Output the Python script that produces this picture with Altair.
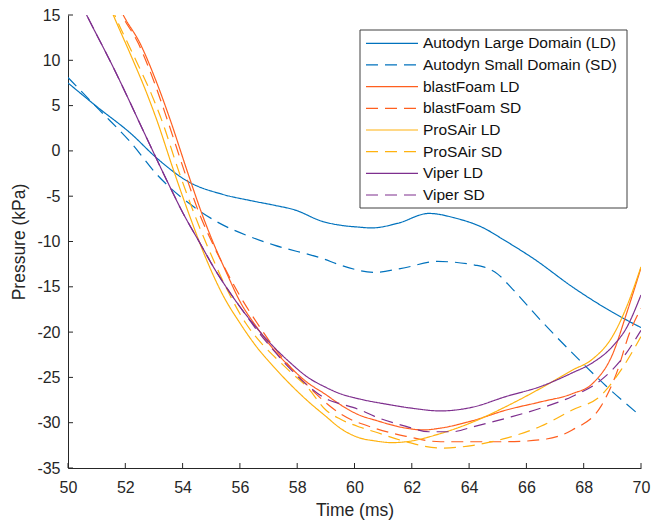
import altair as alt
import pandas as pd

# ---------------- data ----------------
series_names = [
    "Autodyn Large Domain (LD)", "Autodyn Small Domain (SD)",
    "blastFoam LD", "blastFoam SD",
    "ProSAir LD", "ProSAir SD",
    "Viper LD", "Viper SD",
]
series_colors = ["#0072BD", "#0072BD", "#FF5F1F", "#FF5F1F",
                 "#FFB20F", "#FFB20F", "#7E2F8E", "#7E2F8E"]

autodyn_ld_x = [50, 51, 52.2, 53.1, 54.2, 55.4, 56.4, 57.2, 57.9, 58.9, 59.5, 60.1, 60.6,
                61.5, 62.6, 63.5, 64.5, 65.2, 66.3, 67.6, 69.0, 70]
autodyn_ld_y = [7.5, 4.9, 1.9, -0.8, -3.4, -4.8, -5.5, -6.0, -6.5, -7.8, -8.2, -8.4, -8.5,
                -8.0, -6.9, -7.4, -8.5, -9.8, -12.0, -15.0, -17.8, -19.5]

autodyn_sd_x = [50, 51.1, 52.2, 53.1, 54.4, 55.3, 56.3, 57.2, 58.9, 59.5, 60.7, 61.6, 62.9,
                64.2, 64.5, 65.0, 65.5, 66.5, 67.6, 68.8, 70]
autodyn_sd_y = [8.1, 4.5, 0.9, -2.6, -6.2, -8.0, -9.4, -10.4, -11.9, -12.6, -13.4, -13.0, -12.2,
                -12.6, -12.8, -13.6, -15.2, -18.7, -22.3, -26.0, -29.3]

blastfoam_ld_x = [51.75, 51.93, 52.51, 53.1, 53.56, 54.2, 54.67, 55.0, 55.54, 56.0, 56.6, 57.17,
                  57.8, 58.33, 59.0, 59.5, 60.2, 60.7, 61.8, 62.4, 63.0, 64.1, 65.3, 66.5, 67.6,
                  68.3, 69.0, 69.5, 70]
blastfoam_ld_y = [16.2, 15, 11.9, 7.5, 3.5, -2.6, -6.9, -9.6, -13.5, -16.6, -19.5, -21.9,
                  -24.0, -25.5, -26.9, -28.0, -29.2, -29.7, -30.6, -30.8, -30.6, -29.8, -28.6,
                  -27.7, -26.8, -25.7, -22.5, -17.9, -12.9]

blastfoam_sd_x = [51.7, 51.88, 52.45, 53.02, 53.46, 54.1, 54.58, 55.0, 55.5, 56.0, 56.6, 57.17,
                  57.8, 58.33, 59.0, 59.5, 60.7, 61.8, 63.0, 64.2, 65.3, 66.7, 67.6, 68.6, 69.15,
                  69.6, 70]
blastfoam_sd_y = [16.2, 15, 11.9, 7.5, 3.5, -2.6, -6.9, -9.9, -13.1, -16.0, -19.0, -21.6,
                  -24.0, -25.8, -27.8, -29.0, -30.6, -31.5, -32.1, -32.1, -32.1, -31.8, -30.8,
                  -28.2, -24.5, -20.1, -17.4]

prosair_ld_x = [51.45, 51.58, 52.16, 52.75, 53.1, 53.68, 54.26, 54.78, 55.42, 56.0, 56.6, 57.17,
                57.8, 58.33, 59.0, 59.5, 60.2, 60.7, 61.3, 61.8, 63.0, 64.15, 65.3, 66.5, 67.6,
                68.3, 69.0, 69.5, 70]
prosair_ld_y = [16.0, 15, 10.8, 6.35, 3.4, -2.1, -7.3, -11.6, -16.0, -19.0, -21.7, -23.8,
                -25.9, -27.5, -29.3, -30.6, -31.7, -32.0, -32.2, -32.1, -31.2, -29.9, -28.2,
                -26.2, -24.2, -23.0, -20.5, -17.2, -12.8]

prosair_sd_x = [51.5, 51.63, 52.25, 52.9, 53.27, 53.85, 54.45, 55.0, 55.6, 56.2, 56.8, 57.17,
                57.8, 58.33, 59.0, 59.5, 60.2, 60.7, 61.8, 63.0, 64.15, 65.3, 66.5, 67.6, 68.6,
                69.3, 70]
prosair_sd_y = [16.0, 15, 10.8, 6.35, 3.4, -2.1, -7.3, -11.5, -15.6, -19.0, -21.4, -22.6,
                -24.5, -26.0, -28.6, -29.6, -30.5, -31.0, -32.1, -32.8, -32.5, -31.7, -30.4,
                -28.6, -27.0, -24.2, -20.5]

viper_ld_x = [50.4, 50.65, 51.6, 52.75, 53.44, 54.02, 54.61, 55.13, 55.6, 56.0, 56.6, 57.17,
              57.8, 58.33, 59.0, 59.5, 60.2, 61.2, 62.0, 63.0, 64.1, 65.3, 66.5, 67.6, 68.3,
              69.0, 69.5, 70]
viper_ld_y = [16.6, 15, 9.1, 1.4, -3.2, -6.9, -10.2, -13.1, -15.4, -17.2, -19.6, -21.6,
              -23.5, -24.9, -26.1, -26.8, -27.4, -28.0, -28.4, -28.7, -28.3, -27.1, -26.0,
              -24.5, -23.4, -21.6, -19.5, -15.9]

viper_sd_x = [50.4, 50.65, 51.6, 52.75, 53.44, 54.02, 54.61, 55.13, 55.6, 56.0, 56.6, 57.17,
              57.8, 58.33, 59.1, 59.5, 60.2, 60.7, 61.8, 62.6, 63.4, 64.2, 65.3, 66.5, 67.6,
              68.6, 69.4, 70]
viper_sd_y = [16.6, 15, 9.1, 1.4, -3.2, -6.9, -10.2, -13.1, -15.4, -17.2, -19.8, -22.0,
              -24.2, -25.8, -27.5, -27.9, -28.6, -29.3, -30.4, -31.0, -31.0, -30.4, -29.5,
              -28.4, -27.1, -25.3, -22.7, -19.8]

x_ticks = [50, 52, 54, 56, 58, 60, 62, 64, 66, 68, 70]
y_ticks = [-35, -30, -25, -20, -15, -10, -5, 0, 5, 10, 15]

# ---------------- build tables ----------------
all_series = [
    (autodyn_ld_x, autodyn_ld_y), (autodyn_sd_x, autodyn_sd_y),
    (blastfoam_ld_x, blastfoam_ld_y), (blastfoam_sd_x, blastfoam_sd_y),
    (prosair_ld_x, prosair_ld_y), (prosair_sd_x, prosair_sd_y),
    (viper_ld_x, viper_ld_y), (viper_sd_x, viper_sd_y),
]
rows = []
for name, (xs, ys) in zip(series_names, all_series):
    for xv, yv in zip(xs, ys):
        rows.append({"series": name, "x": xv, "y": yv})
df = pd.DataFrame(rows)

legend_df = pd.DataFrame({"series": series_names, "label": series_names,
                          "row": list(range(len(series_names)))})
xt_df = pd.DataFrame({"x": x_ticks})
yt_df = pd.DataFrame({"t": y_ticks})

FONT = "Liberation Sans"
TXT = "#262626"
W, H = 573, 453
dashes = [[1, 0] if i % 2 == 0 else [12, 7] for i in range(8)]

color_scale = alt.Scale(domain=series_names, range=series_colors)
dash_scale = alt.Scale(domain=series_names, range=dashes)
xscale = alt.Scale(domain=[50, 70], nice=False, zero=False)
yscale = alt.Scale(domain=[-35, 15], nice=False, zero=False)
x_axis = alt.Axis(values=x_ticks, labelExpr="datum.value + ''")

lines = alt.Chart(df).mark_line(interpolate="monotone", clip=True, strokeWidth=1.2).encode(
    x=alt.X("x:Q", scale=xscale, title="Time (ms)", axis=x_axis),
    y=alt.Y("y:Q", scale=yscale, title="Pressure (kPa)",
            axis=alt.Axis(values=y_ticks, labelExpr="datum.value + ''")),
    color=alt.Color("series:N", scale=color_scale, legend=None),
    strokeDash=alt.StrokeDash("series:N", scale=dash_scale, legend=None),
    detail="series:N",
)

xticks_layer = alt.Chart(xt_df).mark_rule(color=TXT, strokeWidth=1).encode(
    x=alt.X("x:Q", scale=xscale, title="Time (ms)", axis=x_axis),
    y=alt.value(H), y2=alt.value(H - 5),
)
yticks_layer = alt.Chart(yt_df).mark_rule(color=TXT, strokeWidth=1).encode(
    y=alt.Y("t:Q", scale=yscale, axis=None),
    x=alt.value(0), x2=alt.value(5),
)

box = alt.Chart(legend_df.head(1)).mark_rect(fill="white", stroke="#404040", strokeWidth=1).encode(
    x=alt.value(292), x2=alt.value(559), y=alt.value(15), y2=alt.value(193),
)
row_scale = alt.Scale(domain=[0, 7], range=[28.3, 180])
leg_lines = alt.Chart(legend_df).mark_rule(strokeWidth=1.2).encode(
    x=alt.value(298), x2=alt.value(350),
    y=alt.Y("row:Q", scale=row_scale, axis=None),
    color=alt.Color("series:N", scale=color_scale, legend=None),
    strokeDash=alt.StrokeDash("series:N", scale=dash_scale, legend=None),
)
leg_text = alt.Chart(legend_df).mark_text(align="left", baseline="middle", font=FONT,
                                          fontSize=15.5, color="#111111").encode(
    x=alt.value(355),
    y=alt.Y("row:Q", scale=row_scale, axis=None),
    text="label:N",
)

chart = alt.layer(lines, xticks_layer, yticks_layer, box, leg_lines, leg_text).resolve_scale(
    y="independent"
).properties(
    width=W, height=H,
    autosize=alt.AutoSizeParams(type="none"),
    padding={"left": 68, "top": 15, "right": 11, "bottom": 56},
    background="white",
).configure_view(stroke=None).configure_axis(
    grid=False, ticks=False, tickSize=0, domainColor=TXT, domainWidth=1,
    labelFont=FONT, labelFontSize=16, labelColor=TXT,
    titleFont=FONT, titleFontSize=17.5, titleFontWeight="normal", titleColor=TXT,
    labelFlush=False,
).configure_axisX(labelPadding=11, titlePadding=6).configure_axisY(labelPadding=8, titlePadding=8)

chart.save("out.html", embed_options={"renderer": "svg", "actions": False})
